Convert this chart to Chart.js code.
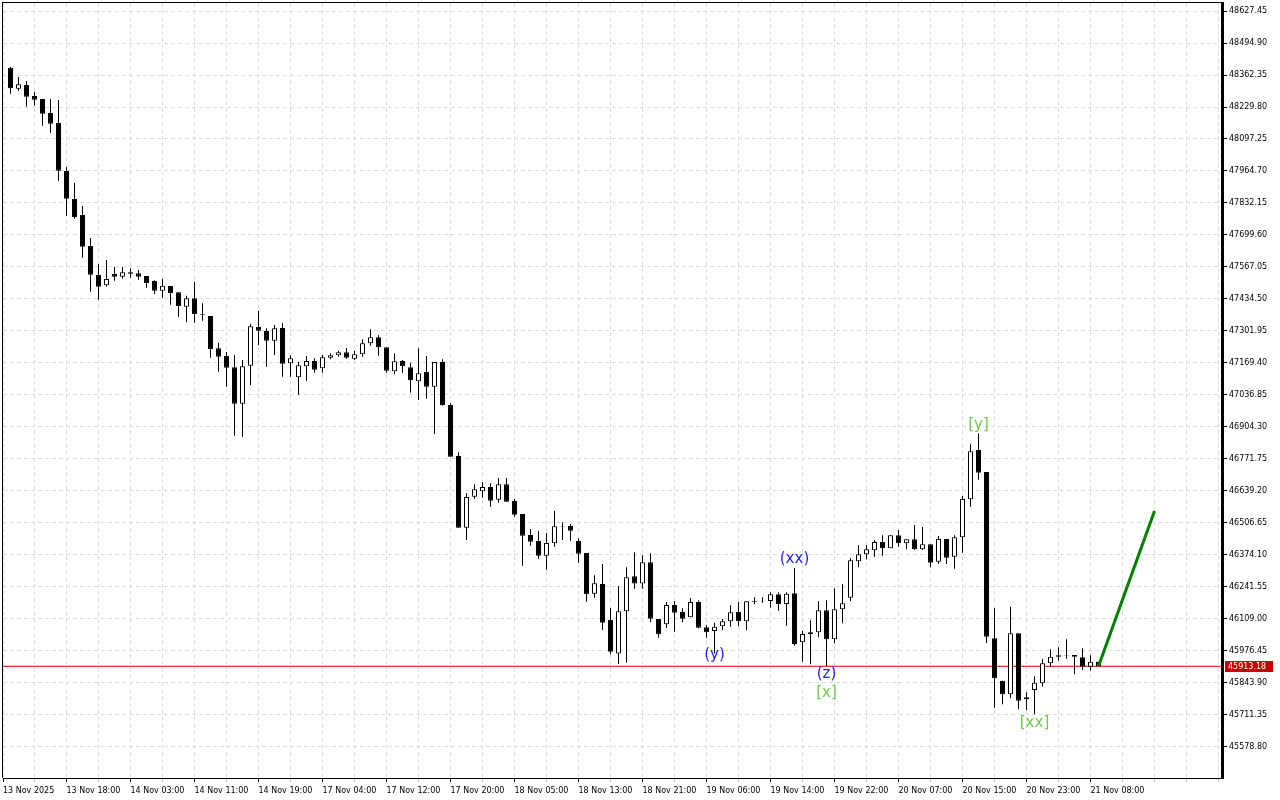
<!DOCTYPE html>
<html>
<head>
<meta charset="utf-8">
<title>H1 chart</title>
<script src="https://cdn.jsdelivr.net/npm/chart.js@4/dist/chart.umd.min.js"></script>
<style>
  html, body { margin: 0; padding: 0; background: #fff; }
  #wrap { position: relative; width: 1280px; height: 800px; }
</style>
</head>
<body>
<div id="wrap"><canvas id="chart" width="1280" height="800"></canvas></div>
<script>
// candles, one per hour
const opens = [
  48392.6, 48305.6, 48320.9, 48275.4, 48262.9, 48204.9, 48163.5, 47964.7, 47848.7, 47782.4,
  47654.0, 47533.9, 47491.2, 47538.0, 47526.9, 47545.1, 47541.0, 47529.8, 47509.1, 47468.9,
  47488.3, 47462.3, 47402.6, 47437.4, 47372.4, 47364.1, 47230.3, 47198.4, 47151.6, 47000.8,
  47158.2, 47318.5, 47301.9, 47261.8, 47314.4, 47168.2, 47110.2, 47155.7, 47177.7, 47147.4,
  47191.3, 47201.3, 47213.7, 47187.2, 47205.4, 47251.0, 47275.8, 47234.4, 47135.0, 47177.7,
  47151.6, 47093.6, 47132.1, 47071.2, 47173.5, 46995.4, 46784.2, 46487.2, 46615.6, 46638.0,
  46655.8, 46603.2, 46666.9, 46597.8, 46543.9, 46456.9, 46432.1, 46371.2, 46422.6, 46492.2,
  46494.2, 46432.1, 46382.4, 46213.8, 46254.0, 46104.9, 45966.1, 46140.9, 46286.3, 46256.0,
  46343.9, 46109.0, 46087.0, 46167.0, 46138.0, 46116.0, 46179.4, 46074.6, 46059.3, 46078.8,
  46099.5, 46138.0, 46099.5, 46184.8, 46182.7, 46183.6, 46211.3, 46171.1, 46215.4, 46012.5,
  46046.9, 46053.9, 46145.0, 46024.9, 46149.2, 46197.2, 46348.0, 46377.0, 46393.6, 46427.9,
  46401.8, 46455.7, 46422.6, 46439.1, 46397.7, 46418.4, 46346.3, 46440.4, 46367.1, 46447.4,
  46604.8, 46809.0, 46717.9, 46029.0, 45853.4, 45797.1, 46049.8, 45776.4, 45814.9, 45842.6,
  45925.5, 45958.6, 45957.8, 45959.9, 45950.3, 45911.4, 45932.1
];
const highs = [
  48395.5, 48354.1, 48337.5, 48293.2, 48262.9, 48262.9, 48258.8, 47980.0, 47915.0, 47819.7,
  47687.2, 47579.5, 47596.0, 47567.0, 47567.0, 47561.7, 47554.6, 47529.8, 47512.0, 47517.3,
  47488.3, 47462.3, 47448.2, 47506.2, 47416.7, 47364.1, 47253.5, 47215.0, 47202.5, 47181.8,
  47332.2, 47384.8, 47313.1, 47328.0, 47335.1, 47201.3, 47174.8, 47198.4, 47188.9, 47202.5,
  47209.6, 47220.3, 47231.5, 47220.3, 47267.6, 47309.0, 47284.1, 47234.4, 47209.6, 47181.8,
  47170.6, 47230.3, 47198.4, 47173.5, 47184.7, 47002.5, 46799.5, 46629.7, 46666.9, 46676.5,
  46671.1, 46693.0, 46693.0, 46606.1, 46543.9, 46481.8, 46473.5, 46465.2, 46556.4, 46509.5,
  46502.5, 46443.2, 46382.4, 46290.0, 46336.8, 46154.6, 46245.7, 46323.1, 46385.7, 46373.3,
  46381.1, 46109.0, 46179.4, 46183.6, 46153.3, 46196.0, 46186.4, 46084.1, 46093.7, 46109.0,
  46165.7, 46179.4, 46182.3, 46198.9, 46198.9, 46219.6, 46219.6, 46219.6, 46320.2, 46060.5,
  46103.6, 46183.6, 46186.4, 46236.2, 46253.1, 46361.7, 46415.5, 46415.5, 46436.2, 46455.7,
  46455.7, 46477.6, 46439.1, 46498.4, 46490.1, 46418.4, 46452.8, 46440.4, 46455.7, 46618.5,
  46835.1, 46878.2, 46717.9, 46153.3, 45853.4, 46159.9, 46049.8, 45805.4, 45871.6, 45944.5,
  45983.5, 45991.8, 46024.9, 45959.9, 45987.6, 45958.6, 45932.1
];
const lows = [
  48284.9, 48297.3, 48231.0, 48235.2, 48152.3, 48123.3, 47924.5, 47779.5, 47767.1, 47605.6,
  47464.7, 47431.6, 47485.4, 47510.3, 47518.6, 47522.7, 47514.4, 47481.3, 47455.2, 47438.6,
  47410.9, 47361.2, 47338.0, 47336.3, 47344.6, 47191.3, 47133.4, 47071.2, 46868.3, 46864.1,
  47078.3, 47244.0, 47154.1, 47202.5, 47112.6, 47112.6, 47038.1, 47096.1, 47129.2, 47129.2,
  47184.7, 47195.5, 47187.2, 47181.8, 47195.5, 47241.1, 47199.6, 47129.2, 47122.6, 47129.2,
  47046.4, 47016.1, 47021.5, 46875.3, 46992.5, 46781.3, 46487.2, 46436.2, 46607.3, 46611.5,
  46574.2, 46590.7, 46594.9, 46532.7, 46329.8, 46412.6, 46357.5, 46313.2, 46408.5, 46436.2,
  46433.3, 46342.2, 46180.7, 46197.2, 46063.4, 45962.8, 45922.6, 45928.0, 46234.5, 46234.5,
  46095.3, 46031.5, 46071.7, 46056.4, 46095.3, 46116.0, 46070.5, 46031.5, 45966.9, 46063.4,
  46077.1, 46078.8, 46062.2, 46169.9, 46176.5, 46155.8, 46143.4, 46081.2, 45998.4, 45932.1,
  45921.3, 46033.2, 45914.3, 46008.3, 46091.6, 46183.6, 46323.1, 46356.3, 46367.1, 46371.2,
  46401.8, 46408.5, 46397.7, 46394.8, 46394.8, 46323.1, 46336.8, 46336.8, 46317.3, 46383.6,
  46574.2, 46686.0, 46008.3, 45741.5, 45755.7, 45780.5, 45735.0, 45732.1, 45714.2, 45828.6,
  45911.4, 45936.3, 45944.5, 45879.9, 45897.7, 45896.5, 45913.18
];
const closes = [
  48307.3, 48323.8, 48272.5, 48260.0, 48202.0, 48160.6, 47965.9, 47850.0, 47774.2, 47651.1,
  47535.2, 47485.4, 47517.3, 47526.9, 47545.1, 47539.3, 47526.9, 47500.8, 47468.9, 47489.6,
  47459.4, 47405.5, 47437.4, 47372.4, 47369.0, 47227.4, 47195.5, 47149.9, 47000.8, 47155.7,
  47321.4, 47303.2, 47261.8, 47313.1, 47166.5, 47188.9, 47159.9, 47177.7, 47141.6, 47193.0,
  47201.3, 47213.7, 47191.3, 47205.4, 47251.0, 47275.8, 47234.4, 47137.5, 47176.4, 47155.7,
  47097.7, 47126.7, 47071.2, 47173.5, 46995.4, 46781.3, 46487.2, 46614.3, 46646.2, 46655.8,
  46599.0, 46666.9, 46594.9, 46541.0, 46454.0, 46429.2, 46371.2, 46423.8, 46493.0, 46494.2,
  46474.7, 46379.5, 46211.3, 46256.9, 46093.7, 45973.5, 46141.3, 46281.7, 46256.0, 46344.3,
  46110.2, 46045.6, 46167.0, 46135.1, 46110.2, 46179.4, 46073.0, 46053.9, 46077.1, 46099.5,
  46136.7, 46099.5, 46182.3, 46180.7, 46184.4, 46211.3, 46171.1, 46213.8, 46005.4, 46046.9,
  46053.9, 46145.0, 46024.9, 46149.2, 46174.4, 46352.1, 46377.0, 46397.7, 46427.9, 46401.8,
  46455.7, 46422.6, 46439.1, 46397.7, 46418.4, 46342.2, 46440.4, 46362.9, 46447.4, 46606.1,
  46803.6, 46715.0, 46035.7, 45863.4, 45797.1, 46049.8, 45770.6, 45784.7, 45845.1, 45925.5,
  45952.8, 45952.8, 45959.4, 45952.8, 45911.4, 45932.1, 45913.18
];

const lastPrice = 45913.18;

// forecast line (green)
const projBars = [136, 143];
const projPrices = [45913.18, 46556.3];

// wave marks
const waveLabels = ['(xx)', '(y)', '(z)', '[x]', '[y]', '[xx]'];
const waveBars = [98, 88, 102, 102, 121, 128];
const wavePrices = [46357.5, 45959.9, 45881.2, 45802.5, 46912.6, 45678.2];

const yTickLabels = [
  '48627.45', '48494.90', '48362.35', '48229.80', '48097.25', '47964.70', '47832.15', '47699.60',
  '47567.05', '47434.50', '47301.95', '47169.40', '47036.85', '46904.30', '46771.75', '46639.20',
  '46506.65', '46374.10', '46241.55', '46109.00', '45976.45', '45843.90', '45711.35', '45578.80'
];
const xTickLabels = [
  '13 Nov 2025', '13 Nov 18:00', '14 Nov 03:00', '14 Nov 11:00', '14 Nov 19:00', '17 Nov 04:00',
  '17 Nov 12:00', '17 Nov 20:00', '18 Nov 05:00', '18 Nov 13:00', '18 Nov 21:00', '19 Nov 06:00',
  '19 Nov 14:00', '19 Nov 22:00', '20 Nov 07:00', '20 Nov 15:00', '20 Nov 23:00', '21 Nov 08:00'
];
const xTickBars = [0, 7, 15, 23, 31, 39, 47, 55, 63, 71, 79, 87, 95, 103, 111, 119, 127, 135];

// ---- layout
const BAR_PX = 8;                 // pixels per candle
const X_MIN = -0.9375;
const X_MAX = X_MIN + 1219 / BAR_PX;
const Y_MIN = 45450.38;
const Y_MAX = 48660.59;

// first date label sits on the left edge of the chart
const xLabelAt = new Map();
xTickBars.forEach((b, k) => xLabelAt.set(b === 0 ? X_MIN : b, xTickLabels[k]));
const xGrid = [X_MIN];
for (let b = 3; b < X_MAX; b += 4) xGrid.push(b);

const wicks = opens.map((o, i) => ({ x: i, y: [lows[i], highs[i]] }));
const bodies = opens.map((o, i) => ({ x: i, y: [o, closes[i]] }));
const bodyFill = opens.map((o, i) => closes[i] >= o ? '#ffffff' : '#000000');

const FONT = '"DejaVu Sans", sans-serif';
Chart.defaults.font.family = FONT;
Chart.defaults.color = '#000';

// top and left frame lines
const frame = {
  id: 'frame',
  afterDraw(chart) {
    const { ctx, chartArea: a } = chart;
    ctx.save();
    ctx.fillStyle = '#000';
    ctx.fillRect(a.left - 1, a.top - 1, a.right - a.left + 1, 1);
    ctx.fillRect(a.left - 1, a.top - 1, 1, a.bottom - a.top + 1);
    ctx.restore();
  }
};

// red price tag on the price axis
const priceTag = {
  id: 'priceTag',
  afterDraw(chart) {
    const { ctx, chartArea: a, scales: { y } } = chart;
    const py = Math.round(y.getPixelForValue(lastPrice));
    ctx.save();
    ctx.fillStyle = '#c40000';
    ctx.fillRect(a.right + 3, py - 5, 48, 11);
    ctx.fillStyle = '#fff';
    ctx.font = '8px ' + FONT;
    ctx.textBaseline = 'middle';
    ctx.fillText(lastPrice.toFixed(2), a.right + 6, py + 0.5);
    ctx.restore();
  }
};

// wave counts
const waveText = {
  id: 'waveText',
  afterDatasetsDraw(chart) {
    const { ctx, scales: { x, y } } = chart;
    ctx.save();
    ctx.font = '15px ' + FONT;
    ctx.textAlign = 'center';
    ctx.textBaseline = 'middle';
    waveLabels.forEach((t, k) => {
      ctx.fillStyle = t[0] === '(' ? '#1f1ff2' : '#6acb4c';
      ctx.fillText(t, x.getPixelForValue(waveBars[k]), y.getPixelForValue(wavePrices[k]));
    });
    ctx.restore();
  }
};

new Chart(document.getElementById('chart'), {
  type: 'bar',
  data: {
    datasets: [
      {
        type: 'line',
        data: projBars.map((b, k) => ({ x: b, y: projPrices[k] })),
        borderColor: '#008000',
        borderWidth: 3,
        pointRadius: 0,
        order: -1
      },
      {
        data: bodies,
        backgroundColor: bodyFill,
        borderColor: '#000',
        borderWidth: 1,
        borderSkipped: false,
        barThickness: 5,
        inflateAmount: 0,
        grouped: false,
        order: 0
      },
      {
        data: wicks,
        backgroundColor: '#000',
        borderWidth: 0,
        barThickness: 1,
        inflateAmount: 0,
        grouped: false,
        order: 1
      },
      {
        type: 'line',
        data: [{ x: X_MIN, y: lastPrice }, { x: X_MAX, y: lastPrice }],
        borderColor: '#d00000',
        borderWidth: 1,
        pointRadius: 0,
        order: 2
      }
    ]
  },
  options: {
    responsive: false,
    animation: false,
    events: [],
    layout: { padding: { left: 3, top: 3, right: 0, bottom: 0 } },
    plugins: {
      legend: { display: false },
      tooltip: { enabled: false }
    },
    scales: {
      x: {
        type: 'linear',
        min: X_MIN,
        max: X_MAX,
        offset: false,
        afterBuildTicks: s => { s.ticks = xGrid.map(v => ({ value: v })); },
        afterFit: s => { s.height = 22; s.paddingLeft = 0; s.paddingRight = 0; },
        grid: {
          offset: false,
          color: '#dcdcdc',
          tickLength: 4,
          tickColor: c => (c.tick && xLabelAt.has(c.tick.value)) ? '#000' : '#c8c8c8',
          tickBorderDash: [1, 0]
        },
        border: { display: true, color: '#000', width: 1, dash: [4, 3] },
        ticks: {
          autoSkip: false,
          maxRotation: 0,
          minRotation: 0,
          align: 'start',
          padding: 4,
          font: { size: 8 },
          color: '#000',
          callback: v => xLabelAt.get(v) || ''
        }
      },
      y: {
        type: 'linear',
        position: 'right',
        min: Y_MIN,
        max: Y_MAX,
        beginAtZero: false,
        afterBuildTicks: s => { s.ticks = yTickLabels.map(t => ({ value: parseFloat(t) })); },
        afterFit: s => { s.width = 58; s.paddingTop = 0; s.paddingBottom = 0; },
        grid: {
          color: '#dcdcdc',
          tickLength: 5,
          tickColor: '#000',
          tickBorderDash: [1, 0]
        },
        border: { display: true, color: '#000', width: 3, dash: [4, 3] },
        ticks: {
          padding: 2,
          font: { size: 8 },
          color: '#000',
          callback: (v, i) => yTickLabels[i]
        }
      }
    }
  },
  plugins: [frame, priceTag, waveText]
});
</script>
</body>
</html>
